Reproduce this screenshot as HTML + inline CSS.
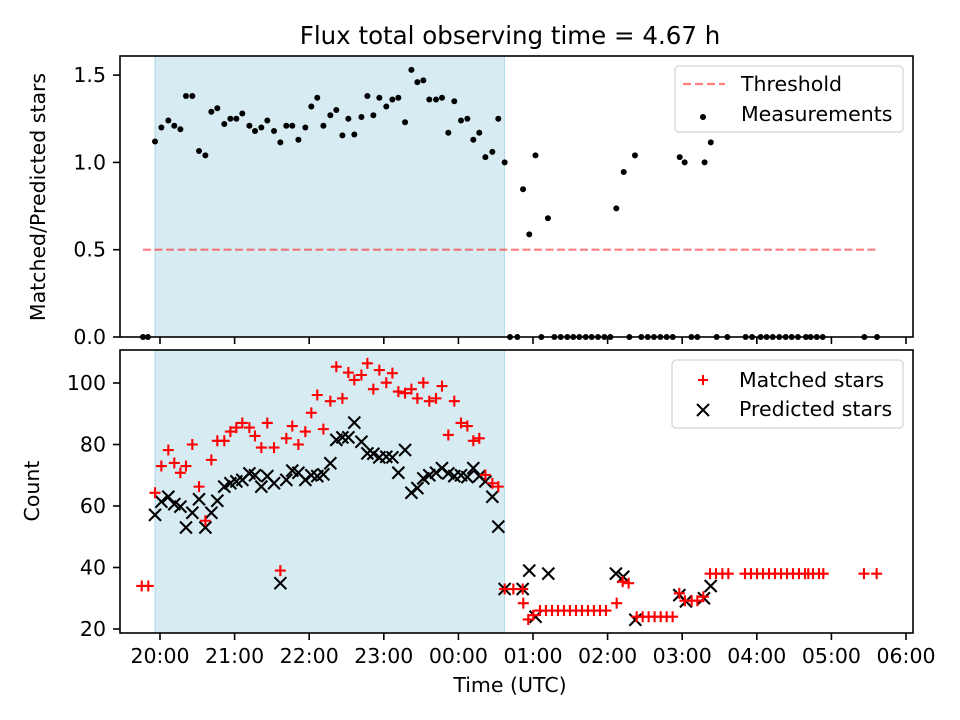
<!DOCTYPE html>
<html><head><meta charset="utf-8"><style>
html,body{margin:0;padding:0;background:#fff;}
svg{display:block;font-family:"DejaVu Sans","Liberation Sans",sans-serif;}
</style></head><body>
<svg id="chart" width="960" height="720" viewBox="0 0 960 720" xmlns="http://www.w3.org/2000/svg">
<rect x="0" y="0" width="960" height="720" fill="#fff"/>
<text x="510" y="44" font-size="24.5" text-anchor="middle">Flux total observing time = 4.67 h</text>
<g id="topPanel"></g>
<g id="botPanel"></g>
<text transform="translate(45,197) rotate(-90)" font-size="20.5" text-anchor="middle">Matched/Predicted stars</text>
<text transform="translate(39,491) rotate(-90)" font-size="20.5" text-anchor="middle">Count</text>
<text x="510" y="692" font-size="20.5" text-anchor="middle">Time (UTC)</text>
<g>
<rect x="675" y="66" width="228" height="66" rx="4" fill="#fff" fill-opacity="0.8" stroke="#d5d5d5" stroke-width="1.3"/>
<line x1="683" y1="84" x2="725" y2="84" stroke="#ff7f7f" stroke-width="2.2" stroke-dasharray="8,4"/>
<text x="741" y="91" font-size="20.5">Threshold</text>
<circle cx="703" cy="117" r="3" fill="#000"/>
<text x="741" y="121" font-size="20.5">Measurements</text>
</g>
<g>
<rect x="672" y="360" width="231" height="68" rx="4" fill="#fff" fill-opacity="0.8" stroke="#d5d5d5" stroke-width="1.3"/>
<path d="M698 380 H708 M703 375 V385" stroke="#f00" stroke-width="2"/>
<text x="739" y="387" font-size="20.5">Matched stars</text>
<path d="M697 404 L709 416 M709 404 L697 416" stroke="#000" stroke-width="2"/>
<text x="739" y="416" font-size="20.5">Predicted stars</text>
</g>
</svg>
<script>
// ---- data (minutes since 20:00 UTC) ----
const hourTickLabels = ["20:00","21:00","22:00","23:00","00:00","01:00","02:00","03:00","04:00","05:00","06:00"];
const ratioTicks = [0, 0.5, 1.0, 1.5];
const ratioTickLabels = ["0.0","0.5","1.0","1.5"];
const countTicks = [20, 40, 60, 80, 100];
const threshold = 0.5;
const shadeStart = -4;
const shadeEnd = 277;
const thresholdStart = -13.7;
const thresholdEnd = 576.7;

const preTimes = [-13.7, -9.7];
const preRatio = [0, 0];
const inTimes = [-4.0,1.1,6.7,11.5,16.4,20.9,26.0,31.4,36.5,41.3,46.1,51.7,56.6,61.4,66.2,71.9,76.4,81.5,86.3,91.7,96.8,101.6,106.4,111.3,116.9,121.7,126.5,131.4,137,141.8,146.7,151.5,156.3,162,166.8,171.6,176.4,182,186.9,191.7,197.1,202.2,207,211.8,216.6,222,226.8,231.9,236.7,242.1,247.2,252,256.8,261.7,267.3,272.1,277.2];
const inRatio = [1.12,1.20,1.24,1.21,1.19,1.38,1.38,1.065,1.04,1.29,1.31,1.22,1.25,1.25,1.28,1.21,1.18,1.20,1.24,1.18,1.115,1.21,1.21,1.13,1.20,1.32,1.37,1.21,1.27,1.30,1.155,1.25,1.16,1.26,1.38,1.27,1.37,1.32,1.36,1.37,1.23,1.53,1.46,1.47,1.36,1.36,1.37,1.17,1.35,1.24,1.25,1.13,1.17,1.03,1.06,1.25,1.00];
const lateTimes = [292,297,302,312,367,373,382,418,422,438,443];
const lateRatio = [0.846,0.588,1.04,0.68,0.737,0.945,1.04,1.03,1.00,1.00,1.115];
const zeroTimes = [281.5,287.4,306.7,317.2,322.3,327.6,332.4,337.3,342.4,347.2,352.3,357.4,362.2,377.5,387.1,392.3,397.3,402.4,407.5,412.4,427.4,432.2,447.7,456.3,471,476.2,483.1,487.9,492.8,498.1,503.2,508.1,513.1,519.5,523.3,528.2,533,566.5,576.7];

const preMatchedTimes = [-14.7, -9.4];
const preMatched = [34, 34];
const inMatched = [64.3,73,78.2,74,70.8,73,80,66.3,55.2,75,81.2,81.2,84.2,85.5,87,85.5,82.8,79,87,79,39,82,86,80,84.2,90.3,96.1,85,94.1,105.3,95,103.4,101,102.6,106.4,98,104.2,100.1,103.2,97.2,96.7,98,95,100.1,94.1,95,99,83.1,94.1,87,86,81.2,82,70.1,67.4,66.3,33];
const inPredicted = [57.1,61.4,63,60.6,59.8,53,57.8,62.2,53,57.8,61.7,66.3,67.4,68,68.5,70.6,70,66.3,69.7,67.4,34.9,68.5,71.5,70.8,68.5,70,69.7,70.3,73.9,81.5,82.3,82.3,87.1,80.9,77.1,77,75.8,76,75.8,70.8,78.2,64.3,65.8,69,70,70.8,72.3,70.6,69.7,70,69.4,72.3,69.7,68,63,53.3,33];
const lateMatchedTimes = [284.2,291.7,292.2,296.2,300.3,305.6,310.4,315.3,320.1,324.9,329.7,334.6,339.4,344.2,349,353.9,358.7,367.3,372.1,376.9,383.4,388.2,393,397.8,402.7,407.5,412.3,417.7,422.2,427.6,432.2,437,442.4,447.2,452.3,457.1,470.5,475.3,480.2,485,489.8,494.6,499.5,504.3,509.1,513.9,518.8,521.4,525.2,530,533.5,566.2,576.4];
const lateMatched = [33,33,28.4,23.1,24.5,26,26,26,26,26,26,26,26,26,26,26,26,28.4,35.4,34.9,24,24,24,24,24,24,24,31.6,29.2,29.2,29.2,30.5,38,38,38,38,38,38,38,38,38,38,38,38,38,38,38,38,38,38,38,38,38];
const latePredictedTimes = [291.7,297,302.1,312.3,366.7,372.6,382.3,417.7,423,437.5,442.9];
const latePredicted = [33,39,24,38,38,37,23,31,29,30,34];

// ---- scales ----
const X0 = 120, X1 = 913;
function xs(m){ return 160 + m * (74.6/60); }
function yTop(v){ return 337 - v * 174.6; }
function yBot(c){ return 629 - (c - 20) * 3.075; }
const NS = "http://www.w3.org/2000/svg";
function mk(tag, attrs, parent){
  const e = document.createElementNS(NS, tag);
  for (const k in attrs) e.setAttribute(k, attrs[k]);
  parent.appendChild(e); return e;
}
const topG = document.getElementById('topPanel');
const botG = document.getElementById('botPanel');

function panel(g, y0, y1, pname){
  const s = mk('rect', {x: xs(shadeStart), y: y0, width: xs(shadeEnd)-xs(shadeStart), height: y1-y0, fill:'#add8e6', 'fill-opacity':0.5, stroke:'#add8e6', 'stroke-width':1}, g);
  
  
}
panel(topG, 56, 337, 'top');
panel(botG, 350, 633, 'bottom');

const th = mk('line', {x1: xs(thresholdStart), x2: xs(thresholdEnd), y1: yTop(threshold), y2: yTop(threshold), stroke:'#ff0000', 'stroke-opacity':0.5, 'stroke-width':2.2, 'stroke-dasharray':'8,3.5'}, topG);



const allT = preTimes.concat(inTimes, lateTimes, zeroTimes);
const allR = preRatio.concat(inRatio, lateRatio, zeroTimes.map(() => 0));
for (let i = 0; i < allT.length; i++){
  const c = mk('circle', {cx: xs(allT[i]), cy: yTop(allR[i]), r: 3, fill:'#000'}, topG);
  
  
}

const mT = preMatchedTimes.concat(inTimes, lateMatchedTimes);
const mV = preMatched.concat(inMatched, lateMatched);
const pT = inTimes.concat(latePredictedTimes);
const pV = inPredicted.concat(latePredicted);
for (let i = 0; i < pT.length; i++){
  const x = xs(pT[i]), y = yBot(pV[i]);
  const p = mk('path', {d:`M${x-6} ${y-6} L${x+6} ${y+6} M${x+6} ${y-6} L${x-6} ${y+6}`, stroke:'#000', 'stroke-width':2.1}, botG);
  
  
}
for (let i = 0; i < mT.length; i++){
  const x = xs(mT[i]), y = yBot(mV[i]);
  const p = mk('path', {d:`M${x-5.5} ${y} H${x+5.5} M${x} ${y-5.5} V${y+5.5}`, stroke:'#f00', 'stroke-width':2.1}, botG);
  
  
}

function frame(g, y0, y1, pname){
  const r = mk('rect', {x: X0, y: y0, width: X1-X0, height: y1-y0, fill:'none', stroke:'#000', 'stroke-width':1.6}, g);
  
  
  for (let i = 0; i < hourTickLabels.length; i++){
    const x = xs(i*60);
    const t = mk('line', {x1:x, x2:x, y1:y1, y2:y1+7, stroke:'#000', 'stroke-width':1.6}, g);
    
    
  }
}
frame(topG, 56, 337, 'top');
frame(botG, 350, 633, 'bottom');
for (let i = 0; i < hourTickLabels.length; i++){
  const t = mk('text', {x: xs(i*60), y: 663, 'font-size':20.5, 'text-anchor':'middle'}, botG);
  t.textContent = hourTickLabels[i];
  
  
}
for (let i = 0; i < ratioTicks.length; i++){
  const y = yTop(ratioTicks[i]);
  const l = mk('line', {x1:113, x2:120, y1:y, y2:y, stroke:'#000', 'stroke-width':1.6}, topG);
  
  
  const t = mk('text', {x:106, y:y+7, 'font-size':20.5, 'text-anchor':'end'}, topG);
  t.textContent = ratioTickLabels[i];
  
  
}
for (let i = 0; i < countTicks.length; i++){
  const y = yBot(countTicks[i]);
  const l = mk('line', {x1:113, x2:120, y1:y, y2:y, stroke:'#000', 'stroke-width':1.6}, botG);
  
  
  const t = mk('text', {x:106, y:y+7, 'font-size':20.5, 'text-anchor':'end'}, botG);
  t.textContent = String(countTicks[i]);
  
  
}
</script>
</body></html>
